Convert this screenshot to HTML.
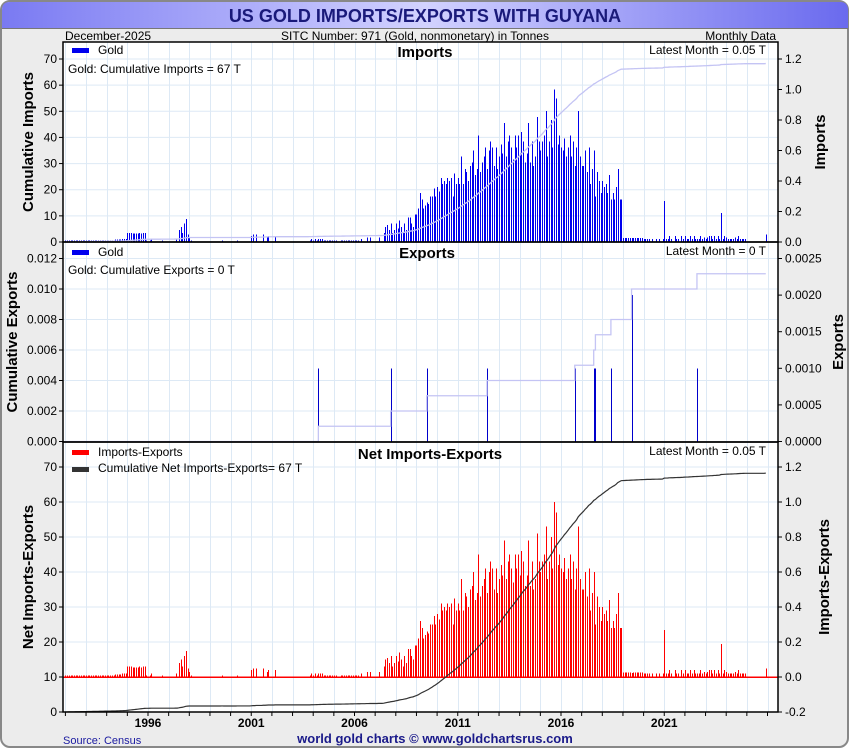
<!DOCTYPE html>
<html><head><meta charset="utf-8">
<style>
html,body{margin:0;padding:0;background:#fff;}
svg{display:block;font-family:"Liberation Sans Narrow","Liberation Sans",sans-serif;}
.t{font-size:12px;fill:#000;}
.b{font-weight:bold;font-family:"Liberation Sans",sans-serif;}
</style></head>
<body>
<svg id="chart" width="850" height="750" viewBox="0 0 850 750" xmlns="http://www.w3.org/2000/svg">
<defs>
<linearGradient id="tg" x1="0" x2="1" y1="0" y2="0">
<stop offset="0" stop-color="#7a7af2"/><stop offset="0.5" stop-color="#d2d2ff"/><stop offset="1" stop-color="#6a6aee"/>
</linearGradient>
</defs>
<rect x="1" y="1" width="847" height="746" rx="9" fill="#ececec" stroke="#888" stroke-width="2"/>
<path d="M2,28 L2,10 Q2,2 10,2 L840,2 Q848,2 848,10 L848,28 Z" fill="url(#tg)"/>
<line x1="2" y1="28.5" x2="848" y2="28.5" stroke="#777" stroke-width="1"/>
<text x="425" y="22" text-anchor="middle" style="font-size:18px;font-weight:bold;fill:#1a1a7a;">US GOLD IMPORTS/EXPORTS WITH GUYANA</text>
<text class="t" x="65" y="40">December-2025</text>
<text class="t" x="415" y="40" text-anchor="middle">SITC Number: 971 (Gold, nonmonetary) in Tonnes</text>
<text class="t" x="776" y="40" text-anchor="end">Monthly Data</text>
<rect x="63" y="42" width="715" height="670" fill="#fff"/>
<g id="grid"></g>
<g id="marks" shape-rendering="crispEdges"></g>
<g id="lines"></g>
<g id="axes"></g>
<g id="labels"></g>
<text x="63" y="744" style="font-size:11px;fill:#1a1aa0;">Source: Census</text>
<text x="435" y="743" text-anchor="middle" style="font-size:13px;font-weight:bold;fill:#1a1a8a;font-family:'Liberation Sans',sans-serif;">world gold charts © www.goldchartsrus.com</text>
</svg>
<script>
// Monthly gold imports (tonnes), Jan 1992 .. Dec 2025, one row per year
const startYear = 1992;
const imports = [
0.01,0.01,0.01,0.01,0.01,0.01,0.01,0.01,0.01,0.01,0.01,0.01,
0.01,0.01,0.01,0.01,0.01,0.01,0.01,0.01,0.01,0.01,0.01,0.01,
0.01,0.01,0.01,0.01,0.01,0.015,0.015,0.015,0.015,0.02,0.02,0.02,
0.06,0.06,0.06,0.055,0.055,0.055,0.055,0.06,0.055,0.06,0.06,0.01,
0,0.01,0.02,0,0,0,0,0,0.01,0,0,0,
0,0,0,0,0.02,0,0.08,0.1,0.06,0.12,0.15,0.05,
0.03,0.01,0,0,0,0,0,0,0,0,0,0,
0,0,0,0,0,0,0,0.01,0,0,0,0,
0,0,0,0,0.01,0,0,0,0,0,0,0,
0.04,0.05,0,0.05,0,0,0,0.05,0,0.03,0.04,0,
0,0,0.04,0,0,0,0,0,0,0,0,0,
0,0,0,0,0,0,0,0,0,0,0.01,0.02,
0.01,0.02,0.01,0.02,0.02,0.02,0.01,0.01,0.01,0.01,0.01,0.01,
0.01,0.01,0,0,0.01,0.01,0.01,0.01,0.01,0.01,0.01,0.01,
0.01,0.01,0.01,0,0.02,0,0,0.03,0,0.03,0,0,
0,0,0.03,0,0,0.06,0.1,0.11,0.08,0.12,0.06,0.08,
0.12,0.09,0.14,0.10,0.06,0.12,0.08,0.16,0.16,0.12,0.10,0.18,
0.18,0.22,0.32,0.28,0.22,0.24,0.26,0.25,0.30,0.30,0.35,0.30,
0.36,0.33,0.42,0.38,0.40,0.38,0.42,0.40,0.42,0.30,0.45,0.38,
0.42,0.38,0.56,0.38,0.48,0.46,0.40,0.50,0.52,0.60,0.44,0.48,
0.70,0.46,0.52,0.56,0.62,0.48,0.60,0.66,0.62,0.50,0.62,0.48,
0.56,0.64,0.58,0.78,0.56,0.66,0.70,0.62,0.54,0.70,0.62,0.70,
0.58,0.72,0.66,0.52,0.58,0.78,0.52,0.66,0.50,0.56,0.82,0.66,
0.60,0.66,0.70,0.86,0.56,0.66,0.80,0.62,1.00,0.94,0.64,0.70,
0.62,0.60,0.68,0.56,0.62,0.70,0.56,0.66,0.50,0.62,0.86,0.56,
0.50,0.50,0.60,0.46,0.62,0.38,0.48,0.60,0.30,0.46,0.40,0.32,
0.40,0.36,0.38,0.32,0.44,0.28,0.32,0.28,0.36,0.48,0.28,0.28,
0.025,0.025,0.025,0.025,0.025,0.025,0.025,0.025,0.025,0.025,0.025,0.025,
0.02,0.02,0.02,0.02,0,0.02,0,0.02,0,0.02,0,0.02,
0.27,0.02,0.02,0.04,0.02,0,0.04,0.02,0.02,0,0.04,0.02,
0.04,0.02,0.02,0.04,0.02,0.04,0.02,0.02,0.02,0.04,0.02,0.03,
0.02,0.03,0.04,0.04,0.02,0.04,0.02,0.04,0.02,0.19,0.02,0.04,
0.03,0.02,0.02,0.02,0.02,0.03,0.02,0.04,0.02,0.02,0.02,0.02,
0,0,0,0,0,0,0,0,0,0,0,0.05
];
// Sparse exports: month index from Jan 1992 and value (tonnes)
const exportMonths = [147,189,210,245,296,307,308,317,329,367];
const exportValues = [0.001,0.001,0.001,0.001,0.001,0.001,0.001,0.001,0.002,0.001];
const yearTicks = [1996,2001,2006,2011,2016,2021];
const impLeftTicks = [0,10,20,30,40,50,60,70];
const impRightTicks = [0,0.2,0.4,0.6,0.8,1.0,1.2];
const expLeftTicks = [0,0.002,0.004,0.006,0.008,0.010,0.012];
const expRightTicks = [0,0.0005,0.0010,0.0015,0.0020,0.0025];
const netLeftTicks = [0,10,20,30,40,50,60,70];
const netRightTicks = [-0.2,0,0.2,0.4,0.6,0.8,1.0,1.2];

const NS='http://www.w3.org/2000/svg';
function mk(parent,tag,attrs,txt){const e=document.createElementNS(NS,tag);for(const k in attrs)e.setAttribute(k,attrs[k]);if(txt!==undefined)e.textContent=txt;parent.appendChild(e);return e;}
const gGrid=document.getElementById('grid'),gMarks=document.getElementById('marks'),gLines=document.getElementById('lines'),gAxes=document.getElementById('axes'),gLab=document.getElementById('labels');
const X0=63,X1=778;
function xYear(y){return 148+(y-1996)*20.65;}
function xMonth(i){return xYear(startYear+i/12);}
function xBar(i){return Math.round(xMonth(i))+0.5;}
function lin(v0,p0,v1,p1){return v=>p0+(v-v0)*(p1-p0)/(v1-v0);}
const P1={top:42,bot:242}, P2={top:242,bot:442}, P3={top:442,bot:712};
const y1L=lin(0,242,70,59), y1R=lin(0,242,1.2,59);
const y2L=lin(0,441.5,0.012,258.5), y2R=lin(0,441.5,0.0025,258.5);
const y3L=lin(0,712,70,467), y3R=lin(0,677,1.2,467);

const n=imports.length;
const exportsM=new Array(n).fill(0);
exportMonths.forEach((m,k)=>{exportsM[m]+=exportValues[k];});
const net=imports.map((v,i)=>v-exportsM[i]);
function cum(a){let s=0;return a.map(v=>s+=v);}
const cumImp=cum(imports), cumExp=cum(exportsM), cumNet=cum(net);

function grid(P,ticks,ys){
  for(let y=startYear;y<=2026;y++){const x=Math.round(xYear(y))+0.5;if(x>X0&&x<X1){const l=mk(gGrid,'line',{x1:x,x2:x,y1:P.top,y2:P.bot,stroke:'#dde9f5','stroke-width':1});
  
  }}
  ticks.forEach(t=>{const y=ys(t);if(y>P.top&&y<P.bot){const l=mk(gGrid,'line',{x1:X0,x2:X1,y1:y,y2:y,stroke:'#dde9f5','stroke-width':1});
  
  }});
}
grid(P1,impLeftTicks,y1L);grid(P2,expLeftTicks,y2L);grid(P3,netLeftTicks,y3L);

const cl1=mk(gLines,'polyline',{points:cumImp.map((v,i)=>xMonth(i)+','+y1L(v)).join(' '),fill:'none',stroke:'#c4c4f4','stroke-width':1.3});


imports.forEach((v,i)=>{if(v<=0)return;const x=xBar(i);const b=mk(gMarks,'line',{x1:x,x2:x,y1:y1R(0),y2:y1R(v),stroke:'#0000ee','stroke-width':1});

});
let pts=[];cumExp.forEach((v,i)=>{const x=xMonth(i);if(i>0)pts.push(x+','+y2L(cumExp[i-1]));pts.push(x+','+y2L(v));});
const cl2=mk(gLines,'polyline',{points:pts.join(' '),fill:'none',stroke:'#c4c4f4','stroke-width':1.3});


exportMonths.forEach((m,k)=>{const x=xBar(m);const b=mk(gMarks,'line',{x1:x,x2:x,y1:y2R(0),y2:y2R(exportValues[k]),stroke:'#0000cc','stroke-width':1});

});
net.forEach((v,i)=>{if(v<=0)return;const x=xBar(i);const b=mk(gMarks,'line',{x1:x,x2:x,y1:y3R(0),y2:y3R(v),stroke:'#ff0000','stroke-width':1});

});
const zl=mk(gMarks,'line',{x1:X0,x2:X1,y1:y3R(0),y2:y3R(0),stroke:'#ff0000','stroke-width':1.5});


const cl3=mk(gLines,'polyline',{points:cumNet.map((v,i)=>xMonth(i)+','+y3L(v)).join(' '),fill:'none',stroke:'#333','stroke-width':1.2});



function panel(P,name){const r=mk(gAxes,'rect',{x:X0,y:P.top,width:X1-X0,height:P.bot-P.top,fill:'none',stroke:'#000','stroke-width':1.5});

}
panel(P1,'imports-panel');panel(P2,'exports-panel');panel(P3,'net-panel');
function fmt(t,d){return t.toFixed(d);}
function ticksL(ticks,ys,d){ticks.forEach(t=>{const y=ys(t);mk(gAxes,'line',{x1:X0-4,x2:X0,y1:y,y2:y,stroke:'#000'});const e=mk(gAxes,'text',{x:X0-6,y:y+4,'text-anchor':'end',class:'t','font-size':11},fmt(t,d));

});}
function ticksR(ticks,ys,d){ticks.forEach(t=>{const y=ys(t);mk(gAxes,'line',{x1:X1,x2:X1+4,y1:y,y2:y,stroke:'#000'});const e=mk(gAxes,'text',{x:X1+7,y:y+4,class:'t','font-size':11},fmt(t,d));

});}
ticksL(impLeftTicks,y1L,0);ticksR(impRightTicks,y1R,1);
ticksL(expLeftTicks,y2L,3);ticksR(expRightTicks,y2R,4);
ticksL(netLeftTicks,y3L,0);ticksR(netRightTicks,y3R,1);
for(let y=startYear;y<=2026;y++){const x=xYear(y);if(x>=X0&&x<=X1)mk(gAxes,'line',{x1:x,x2:x,y1:712,y2:716,stroke:'#000'});}
yearTicks.forEach(yr=>{const e=mk(gAxes,'text',{x:xYear(yr),y:727,'text-anchor':'middle',class:'t b','font-size':11},String(yr));

});

function txt(x,y,s,name,extra){const e=mk(gLab,'text',Object.assign({x:x,y:y,class:'t'},extra||{}),s);

return e;}
function sw(x,y,c,name){const r=mk(gLab,'rect',{x:x,y:y,width:17,height:5,fill:c});

}
sw(72,48,'#0000ee','imports-legend-swatch');txt(98,54,'Gold','imports-legend-label');
txt(68,73,'Gold: Cumulative Imports = 67 T','cumulative-imports-label');
txt(425,57,'Imports','imports-title',{'text-anchor':'middle',style:'font-size:15px;font-weight:bold'});
txt(766,54,'Latest Month = 0.05 T','imports-latest-label',{'text-anchor':'end'});
sw(72,250,'#0000ee','exports-legend-swatch');txt(98,256,'Gold','exports-legend-label');
txt(68,274,'Gold: Cumulative Exports = 0 T','cumulative-exports-label');
txt(427,258,'Exports','exports-title',{'text-anchor':'middle',style:'font-size:15px;font-weight:bold'});
txt(766,255,'Latest Month = 0 T','exports-latest-label',{'text-anchor':'end'});
sw(72,450,'#ff0000','net-legend-swatch');txt(98,456,'Imports-Exports','net-legend-label');
sw(72,467,'#333','cumulative-net-legend-swatch');txt(98,472,'Cumulative Net Imports-Exports= 67 T','cumulative-net-legend-label');
txt(430,459,'Net Imports-Exports','net-title',{'text-anchor':'middle',style:'font-size:15px;font-weight:bold'});
txt(766,455,'Latest Month = 0.05 T','net-latest-label',{'text-anchor':'end'});
function vt(x,y,s,name){const e=mk(gLab,'text',{x:0,y:0,transform:'translate('+x+','+y+') rotate(-90)','text-anchor':'middle',class:'b',style:'font-size:15px;fill:#000'},s);

}
vt(33,142,'Cumulative Imports','imports-left-axis-title');
vt(825,142,'Imports','imports-right-axis-title');
vt(17,342,'Cumulative Exports','exports-left-axis-title');
vt(843,342,'Exports','exports-right-axis-title');
vt(33,577,'Net Imports-Exports','net-left-axis-title');
vt(829,577,'Imports-Exports','net-right-axis-title');
</script>
</body></html>
